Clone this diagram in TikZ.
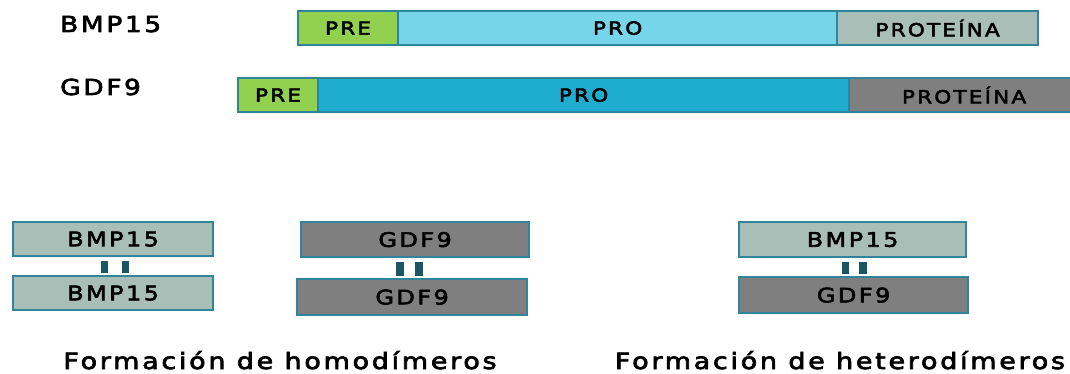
\documentclass[tikz,border=0pt]{standalone}
\usepackage{fontspec}
\setmainfont{DejaVu Sans}[FakeStretch=1.2,LetterSpace=12,FakeBold=3]
\definecolor{edge}{HTML}{31849B}
\definecolor{pregreen}{HTML}{92D050}
\definecolor{prolight}{HTML}{77D5EA}
\definecolor{prodark}{HTML}{1FADCF}
\definecolor{protgrey}{HTML}{A9BEB6}
\definecolor{protdark}{HTML}{7F7F7F}
\definecolor{linkc}{HTML}{1A5663}
\begin{document}
\begin{tikzpicture}[x=1pt,y=-1pt,
  seg/.style={draw=edge, line width=2.2pt, inner sep=0pt, anchor=north west, font=\fontsize{18}{20}\selectfont},
  mono/.style={draw=edge, line width=2.2pt, inner sep=0pt, anchor=north west, font=\fontsize{20}{22}\selectfont},
  lbl/.style={font=\fontsize{22}{24}\selectfont, anchor=base west, inner sep=0pt},
  captext/.style={font=\fontsize{22.5}{24}\selectfont, anchor=base, inner sep=0pt},
  linkbar/.style={draw=linkc, line width=7.5pt, shorten <=3.5pt, shorten >=2pt}]
\useasboundingbox[fill=white] (0,0) rectangle (1070,374);
% labels
\node[lbl] (lb) at (60,32) {BMP15};
\node[lbl] (lg) at (60,95) {GDF9};
% BMP15 bar
\node[seg, fill=pregreen, minimum width=100pt, minimum height=34pt] (bpre) at (297,10) {PRE};
\node[seg, fill=prolight, minimum width=439pt, minimum height=34pt] (bpro) at (397,10) {PRO};
\node[seg, fill=protgrey, minimum width=201pt, minimum height=34pt] (bprot) at (836,10) {PROTEÍNA};
% GDF9 bar
\node[seg, fill=pregreen, minimum width=80pt, minimum height=34pt] (gpre) at (237,77) {PRE};
\node[seg, fill=prodark, minimum width=531pt, minimum height=34pt] (gpro) at (317,77) {PRO};
\node[seg, fill=protdark, minimum width=230pt, minimum height=34pt] (gprot) at (848,77) {PROTEÍNA};
% homodimers BMP15
\node[mono, fill=protgrey, minimum width=200pt, minimum height=34pt] (b1) at (12,221) {BMP15};
\node[mono, fill=protgrey, minimum width=200pt, minimum height=34pt] (b2) at (12,275) {BMP15};
\draw[linkbar] ([xshift=-8.5pt]b1.south) -- ([xshift=-8.5pt]b1.south |- b2.north);
\draw[linkbar] ([xshift=12.5pt]b1.south) -- ([xshift=12.5pt]b1.south |- b2.north);
% homodimers GDF9
\node[mono, fill=protdark, minimum width=228pt, minimum height=35pt] (g1) at (300,221) {GDF9};
\node[mono, fill=protdark, minimum width=230pt, minimum height=36pt] (g2) at (296,278) {GDF9};
\draw[linkbar] ([xshift=-15pt]g1.south) -- ([xshift=-15pt]g1.south |- g2.north);
\draw[linkbar] ([xshift=4pt]g1.south) -- ([xshift=4pt]g1.south |- g2.north);
% heterodimer
\node[mono, fill=protgrey, minimum width=227pt, minimum height=35pt] (h1) at (738,221) {BMP15};
\node[mono, fill=protdark, minimum width=229pt, minimum height=36pt] (h2) at (738,276) {GDF9};
\draw[linkbar] ([xshift=-7pt]h1.south) -- ([xshift=-7pt]h1.south |- h2.north);
\draw[linkbar] ([xshift=10.5pt]h1.south) -- ([xshift=10.5pt]h1.south |- h2.north);
% captions
\node[captext] (c1) at (280,369) {Formación de homodímeros};
\node[captext] (c2) at (840,369) {Formación de heterodímeros};
\end{tikzpicture}
\end{document}
